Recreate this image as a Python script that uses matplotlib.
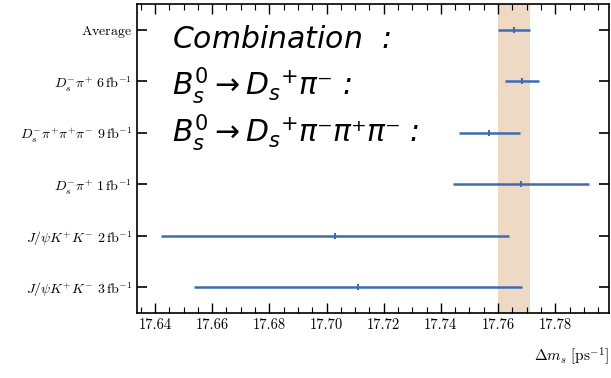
import matplotlib
matplotlib.use("Agg")
import matplotlib.pyplot as plt
from matplotlib.ticker import MultipleLocator, FormatStrFormatter

plt.rcParams["font.family"] = "serif"
plt.rcParams["font.serif"] = ["cmr10"]
plt.rcParams["mathtext.fontset"] = "cm"
plt.rcParams["axes.unicode_minus"] = False

# measurements, bottom row first
labels = [
    r"$J/\psi K^{+}K^{-}\ 3\,\mathrm{fb}^{-1}$",
    r"$J/\psi K^{+}K^{-}\ 2\,\mathrm{fb}^{-1}$",
    r"$D_s^{-}\pi^{+}\ 1\,\mathrm{fb}^{-1}$",
    r"$D_s^{-}\pi^{+}\pi^{+}\pi^{-}\ 9\,\mathrm{fb}^{-1}$",
    r"$D_s^{-}\pi^{+}\ 6\,\mathrm{fb}^{-1}$",
    r"$\mathrm{Average}$",
]
values = [17.711, 17.703, 17.768, 17.757, 17.7683, 17.7656]
errors = [0.0575, 0.061, 0.0238, 0.0106, 0.0060, 0.0057]

avg = values[-1]
avg_err = errors[-1]

fig = plt.figure(figsize=(6.11, 3.78), dpi=100)
ax = fig.add_axes([0.2242, 0.172, 0.7725, 0.817])

ax.axvspan(avg - avg_err, avg + avg_err, color="#eed9c4", lw=0, zorder=0)

pos = list(range(len(values)))
ax.errorbar(values, pos, xerr=errors, fmt="|", color="#3b6db5",
            ecolor="#3b6db5", elinewidth=1.8, capsize=0, markersize=4,
            markeredgewidth=1.5, zorder=3)

ax.set_xlim(17.6337, 17.7988)
ax.set_ylim(-0.5, 5.5)
ax.set_yticks(pos)
ax.set_yticklabels(labels, fontsize=10)
ax.xaxis.set_major_locator(MultipleLocator(0.02))
ax.xaxis.set_minor_locator(MultipleLocator(0.005))
ax.xaxis.set_major_formatter(FormatStrFormatter("%.2f"))
ax.tick_params(axis="x", which="both", direction="in", top=True, labelsize=10.5)
ax.tick_params(axis="x", which="major", length=7, width=1)
ax.tick_params(axis="x", which="minor", length=4, width=0.8)
ax.tick_params(axis="y", which="major", direction="in", right=True, length=7, width=1.2)
for s in ax.spines.values():
    s.set_linewidth(1.2)

fig.text(0.997, 0.03, r"$\Delta m_s\ [\mathrm{ps}^{-1}]$", ha="right", va="bottom", fontsize=11)

notes = [
    r"$\mathit{Combination}\ \ $:",
    r"$\mathit{B^{0}_{s}}\rightarrow\mathit{D_{s}{}^{+}}$π⁻ :",
    r"$\mathit{B^{0}_{s}}\rightarrow\mathit{D_{s}{}^{+}}$π⁻π⁺π⁻ :",
]
for i, t in enumerate(notes):
    fig.text(172 / 611, 1 - (48 + 47 * i) / 378, t, fontsize=21.5, family="DejaVu Sans",
             style="italic", math_fontfamily="dejavusans", ha="left", va="baseline")

fig.savefig("out.png", dpi=100)
